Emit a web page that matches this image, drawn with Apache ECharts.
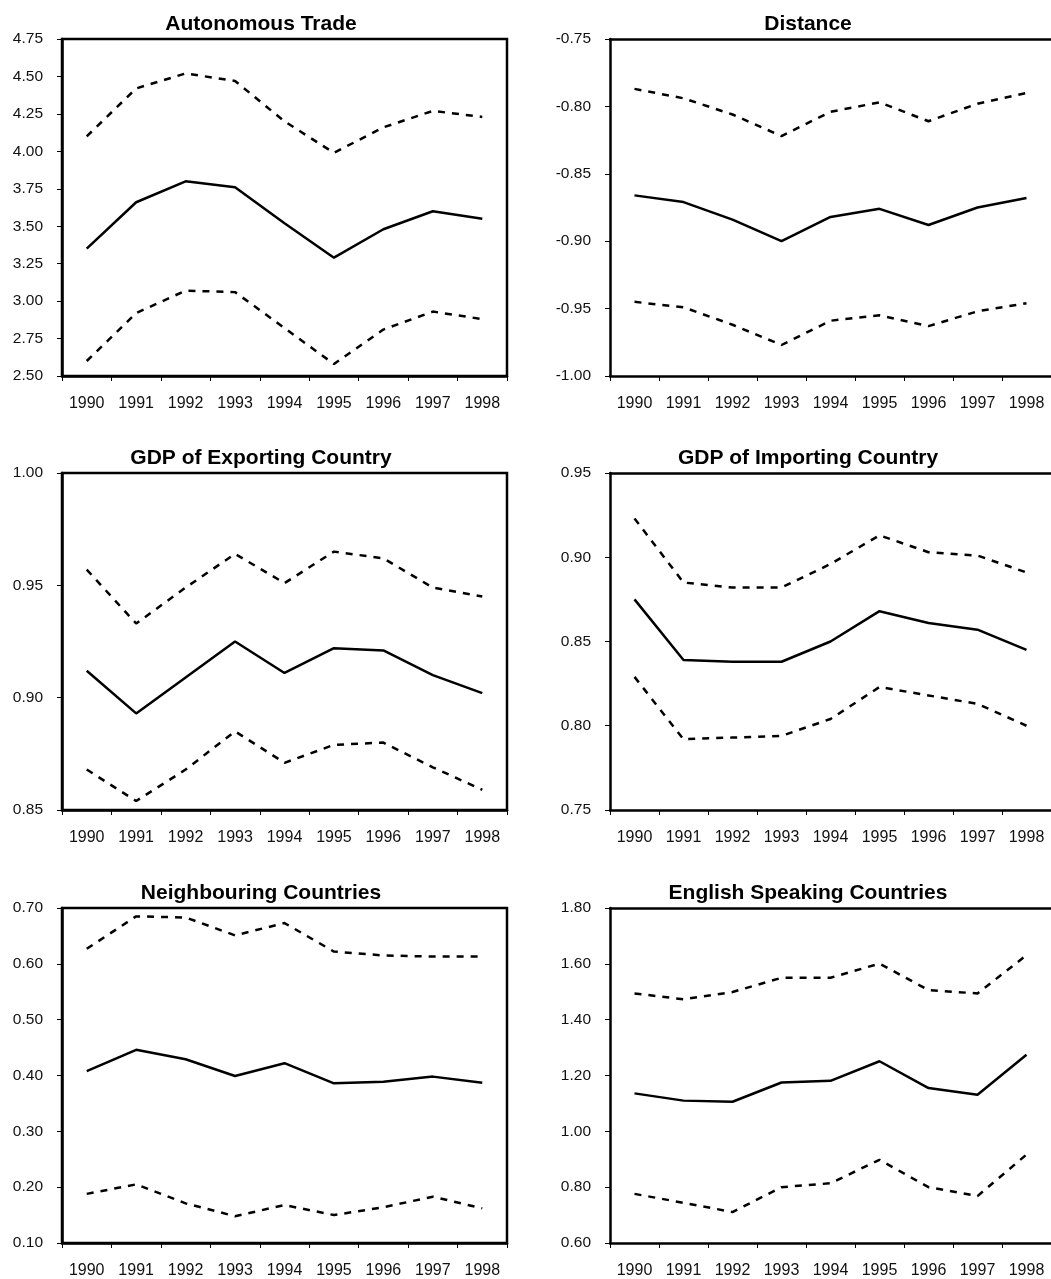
<!DOCTYPE html>
<html lang="en">
<head>
    <meta charset="UTF-8">
    <title>Gravity coefficients 1990-1998</title>
    <script src="https://cdnjs.cloudflare.com/ajax/libs/echarts/6.0.0/echarts.min.js"></script>
    <style>
        * { margin: 0; padding: 0; box-sizing: border-box; }
        body { background: #fff; }
        #main { width: 1051px; height: 1279px; }
    </style>
</head>
<body>
    <div id="main"></div>
    <script>
        // 年份
        const years = ['1990', '1991', '1992', '1993', '1994', '1995', '1996', '1997', '1998'];

        const titles = ['Autonomous Trade', 'Distance', 'GDP of Exporting Country',
            'GDP of Importing Country', 'Neighbouring Countries', 'English Speaking Countries'];

        // 估计值 + 上下置信区间
        const tradeMid = [3.35, 3.66, 3.80, 3.76, 3.52, 3.29, 3.48, 3.60, 3.55];
        const tradeHi  = [4.10, 4.42, 4.52, 4.47, 4.20, 3.99, 4.16, 4.27, 4.23];
        const tradeLo  = [2.60, 2.92, 3.07, 3.06, 2.82, 2.58, 2.81, 2.93, 2.88];

        const distMid = [-0.866, -0.871, -0.884, -0.900, -0.882, -0.876, -0.888, -0.875, -0.868];
        const distHi  = [-0.787, -0.794, -0.806, -0.822, -0.804, -0.797, -0.811, -0.798, -0.790];
        const distLo  = [-0.945, -0.949, -0.962, -0.977, -0.959, -0.955, -0.963, -0.952, -0.946];

        const gdpExMid = [0.912, 0.893, 0.909, 0.925, 0.911, 0.922, 0.921, 0.910, 0.902];
        const gdpExHi  = [0.957, 0.933, 0.949, 0.964, 0.951, 0.965, 0.962, 0.949, 0.945];
        const gdpExLo  = [0.868, 0.854, 0.868, 0.885, 0.871, 0.879, 0.880, 0.869, 0.859];

        const gdpImMid = [0.875, 0.839, 0.838, 0.838, 0.850, 0.868, 0.861, 0.857, 0.845];
        const gdpImHi  = [0.923, 0.885, 0.882, 0.882, 0.896, 0.913, 0.903, 0.901, 0.891];
        const gdpImLo  = [0.829, 0.792, 0.793, 0.794, 0.804, 0.823, 0.818, 0.813, 0.800];

        const neighMid = [0.408, 0.446, 0.429, 0.399, 0.422, 0.386, 0.389, 0.398, 0.387];
        const neighHi  = [0.627, 0.685, 0.683, 0.651, 0.673, 0.622, 0.615, 0.613, 0.613];
        const neighLo  = [0.188, 0.205, 0.171, 0.148, 0.168, 0.150, 0.164, 0.183, 0.162];

        const engMid = [1.136, 1.110, 1.106, 1.175, 1.181, 1.251, 1.155, 1.131, 1.274];
        const engHi  = [1.494, 1.473, 1.499, 1.550, 1.550, 1.601, 1.506, 1.494, 1.631];
        const engLo  = [0.776, 0.744, 0.711, 0.800, 0.814, 0.898, 0.800, 0.768, 0.917];

        // 坐标轴范围
        const yMin = [2.5, -1.0, 0.85, 0.75, 0.1, 0.6];
        const yMax = [4.75, -0.75, 1.0, 0.95, 0.7, 1.8];
        const yStep = [0.25, 0.05, 0.05, 0.05, 0.1, 0.2];

        const panels = [
            [tradeHi, tradeMid, tradeLo],
            [distHi, distMid, distLo],
            [gdpExHi, gdpExMid, gdpExLo],
            [gdpImHi, gdpImMid, gdpImLo],
            [neighHi, neighMid, neighLo],
            [engHi, engMid, engLo]
        ];

        const font = "'Liberation Sans', Arial, sans-serif";
        const colLeft = [62, 610];
        const colWidth = [445, 443];
        const titleX = [256, 803];
        const rowTop = [39, 473, 908];
        const plotH = 337;
        const blackLine = { color: '#000', width: 2.5 };

        const grids = [], xAxes = [], yAxes = [], series = [], titleOpts = [];

        panels.forEach((lines, i) => {
            const c = i % 2, r = Math.floor(i / 2);
            // 右列的右边框在画面外，所以只画左/下/上三条边
            grids.push({
                left: colLeft[c], top: rowTop[r], width: colWidth[c], height: plotH,
                show: c === 0, borderColor: '#000', borderWidth: 2.5, backgroundColor: 'transparent'
            });
            titleOpts.push({
                text: titles[i],
                left: titleX[c],
                top: rowTop[r] - 30,
                textAlign: 'center',
                textStyle: { fontFamily: font, fontWeight: 'bold', fontSize: 21, color: '#000' }
            });
            const xIdx = xAxes.length;
            xAxes.push({
                type: 'category', gridIndex: i, data: years, boundaryGap: true, position: 'bottom',
                axisLine: { lineStyle: blackLine },
                axisTick: { show: true, inside: false, length: 5, lineStyle: { color: '#000', width: 1 } },
                axisLabel: { fontFamily: font, fontSize: 16, color: '#111', margin: 20 },
                splitLine: { show: false }
            });
            if (c === 1) {
                xAxes.push({
                    type: 'category', gridIndex: i, data: years, position: 'top',
                    axisLine: { lineStyle: blackLine },
                    axisTick: { show: false }, axisLabel: { show: false }, splitLine: { show: false }
                });
            }
            yAxes.push({
                type: 'value', gridIndex: i, min: yMin[i], max: yMax[i], interval: yStep[i],
                axisLine: { show: true, lineStyle: blackLine },
                axisTick: { show: true, length: 5, lineStyle: { color: '#000', width: 1 } },
                axisLabel: {
                    fontFamily: font, fontSize: 15.5, color: '#111', margin: 19,
                    formatter: v => v.toFixed(2)
                },
                splitLine: { show: false }
            });
            lines.forEach((vals, k) => {
                series.push({
                    type: 'line', xAxisIndex: xIdx, yAxisIndex: i, data: vals,
                    symbol: 'none', silent: true,
                    lineStyle: { color: '#000', width: 2.5, type: k === 1 ? 'solid' : [7, 7] }
                });
            });
        });

        const myChart = echarts.init(document.getElementById('main'));
        myChart.setOption({
            animation: false,
            backgroundColor: '#fff',
            title: titleOpts,
            grid: grids,
            xAxis: xAxes,
            yAxis: yAxes,
            series: series
        });
    </script>
</body>
</html>
